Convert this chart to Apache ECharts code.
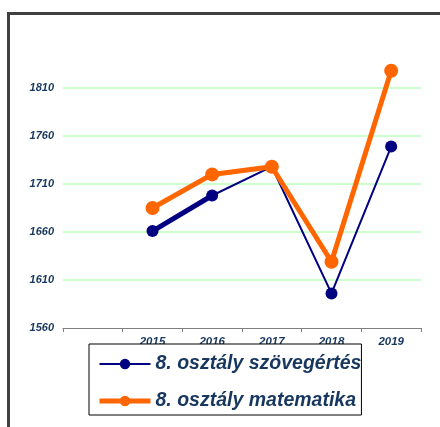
<!DOCTYPE html>
<html>
<head>
<meta charset="utf-8">
<script src="https://cdn.jsdelivr.net/npm/echarts@6/dist/echarts.min.js"></script>
<style>
  html, body { margin: 0; padding: 0; background: #fff; }
  #chart { width: 440px; height: 427px; }
</style>
</head>
<body>
<div id="chart"></div>
<script>
// first slot on the category axis is empty in the original
const years = ['', '2015', '2016', '2017', '2018', '2019'];
const szovegertes = [null, 1661, 1698, 1728, 1596, 1749];
const matematika  = [null, 1685, 1720, 1728, 1629, 1828];
// thicker blue segment between 2015 and 2016
const szovegThick = szovegertes.map((v, i) => (i === 1 || i === 2) ? v : null);

const labelColor = '#17375e';
const labelFont = { fontFamily: 'Liberation Sans, Arial, sans-serif', fontWeight: 'bold', fontStyle: 'italic' };

const chart = echarts.init(document.getElementById('chart'), null, { renderer: 'canvas' });

chart.setOption({
  animation: false,
  backgroundColor: '#fff',
  graphic: [{
    type: 'rect',
    shape: { x: 8.5, y: 13.5, width: 600, height: 600 },
    style: { fill: 'none', stroke: '#404040', lineWidth: 3 },
    silent: true,
    z: -1
  }],
  grid: { left: 63, right: 19, top: 40, bottom: 99, containLabel: false },
  xAxis: {
    type: 'category',
    data: years,
    boundaryGap: true,
    axisLine: { lineStyle: { color: '#808080', width: 1 } },
    axisTick: { show: true, length: 4, lineStyle: { color: '#808080' } },
    axisLabel: { ...labelFont, interval: 0, fontSize: 11.5, color: labelColor, margin: 8 },
    splitLine: { show: false }
  },
  yAxis: {
    type: 'value',
    min: 1560,
    max: 1860,
    interval: 50,
    axisLine: { show: false },
    axisTick: { show: false },
    axisLabel: {
      ...labelFont, fontSize: 11, color: labelColor, margin: 9, showMaxLabel: false,
      formatter: v => String(v)
    },
    splitLine: { show: true, showMinLine: false, showMaxLine: false, lineStyle: { color: '#ccffcc', width: 2 } }
  },
  legend: {
    data: [
      { name: '8. osztály szövegértés', lineStyle: { width: 2 } },
      { name: '8. osztály matematika', lineStyle: { width: 5 } }
    ],
    orient: 'vertical',
    left: 89,
    top: 344,
    padding: [10, 0, 4, 8],
    itemGap: 17,
    itemWidth: 51,
    itemHeight: 13,
    backgroundColor: '#fff',
    borderColor: '#000',
    borderWidth: 1,
    borderRadius: 0,
    textStyle: { ...labelFont, fontSize: 19.5, color: labelColor }
  },
  series: [
    {
      name: '8. osztály szövegértés',
      type: 'line',
      data: szovegertes,
      symbol: 'circle',
      symbolSize: 12,
      color: '#000080',
      lineStyle: { color: '#000080', width: 2 },
      itemStyle: { color: '#000080' },
      z: 2
    },
    {
      name: 'blue-thick',
      type: 'line',
      data: szovegThick,
      symbol: 'none',
      lineStyle: { color: '#000080', width: 5 },
      z: 2
    },
    {
      name: '8. osztály matematika',
      type: 'line',
      data: matematika,
      symbol: 'circle',
      symbolSize: 14,
      color: '#ff6600',
      lineStyle: { color: '#ff6600', width: 5 },
      itemStyle: { color: '#ff6600' },
      z: 3
    }
  ]
});
</script>
</body>
</html>
